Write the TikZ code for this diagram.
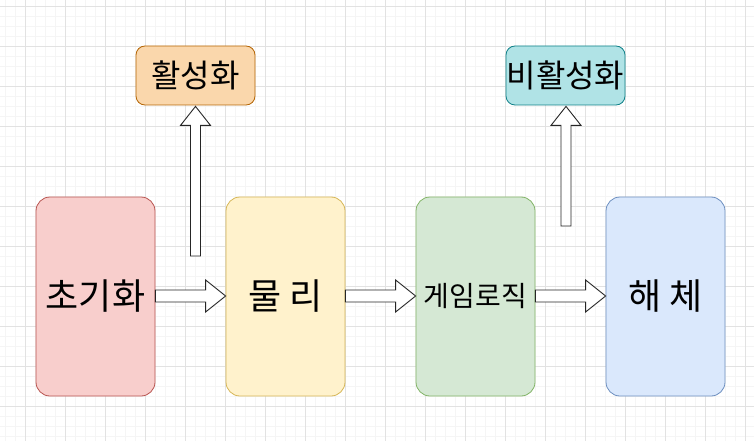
\documentclass[tikz,border=0pt]{standalone}
\usepackage{fontspec}
\newfontfamily\kr{Noto Sans CJK KR}
\usetikzlibrary{calc}
\definecolor{redF}{HTML}{F8CECC}\definecolor{redD}{HTML}{B85450}
\definecolor{yelF}{HTML}{FFF2CC}\definecolor{yelD}{HTML}{D6B656}
\definecolor{grnF}{HTML}{D5E8D4}\definecolor{grnD}{HTML}{82B366}
\definecolor{bluF}{HTML}{DAE8FC}\definecolor{bluD}{HTML}{6C8EBF}
\definecolor{orF}{HTML}{FAD7AC}\definecolor{orD}{HTML}{B46504}
\definecolor{tlF}{HTML}{B0E3E6}\definecolor{tlD}{HTML}{0E8088}
\definecolor{gridminor}{HTML}{F5F5F5}\definecolor{gridmajor}{HTML}{E2E2E2}
\tikzset{
  stage/.style={draw=#1D, fill=#1F, rounded corners=14pt, minimum width=119pt, minimum height=199pt, inner sep=0pt, line width=0.8pt, font=\kr\fontsize{36}{40}\selectfont},
  tag/.style={draw=#1D, fill=#1F, rounded corners=9pt, minimum width=119pt, minimum height=59pt, inner sep=0pt, line width=0.8pt, font=\kr\fontsize{32}{36}\selectfont},
  flex/.style={draw=black!85, fill=white, line width=0.9pt, line join=miter},
}
\begin{document}
\begin{tikzpicture}[x=1pt,y=-1pt]
\useasboundingbox (0,0) rectangle (754,441);
% grid
\foreach \x in {5,15,...,754} \draw[gridminor,line width=0.6pt] (\x,0) -- (\x,441);
\foreach \y in {6,16,...,441} \draw[gridminor,line width=0.6pt] (0,\y) -- (754,\y);
\foreach \x in {25,65,...,754} \draw[gridmajor,line width=0.7pt] (\x,0) -- (\x,441);
\foreach \y in {6,46,...,441} \draw[gridmajor,line width=0.7pt] (0,\y) -- (754,\y);
% nodes
\node[stage=red] (init) at (95.5,296.5) {초기화};
\node[stage=yel] (phys) at (285.5,296.5) {물 리};
\node[stage=grn, font=\kr\fontsize{28}{32}\selectfont] (logic) at (475.5,296.5) {게임로직};
\node[stage=blu] (dest) at (665.5,296.5) {해 체};
\node[tag=or] (act) at (195.5,75.5) {활성화};
\node[tag=tl] (deact) at (565.5,75.5) {비활성화};
\coordinate (midline) at (0,296);
% horizontal flex arrows
\foreach \aa/\bb in {init/phys,phys/logic,logic/dest}{
  \coordinate (s) at (\aa.east |- midline);
  \coordinate (t) at (\bb.west |- midline);
  \draw[flex] ($(s)+(0,-6)$) -- ($(t)+(-20,-6)$) -- ($(t)+(-20,-16)$) -- (t) -- ($(t)+(-20,16)$) -- ($(t)+(-20,6)$) -- ($(s)+(0,6)$) -- cycle;
}
% vertical flex arrows
\coordinate (u1) at (195.5,256);
\coordinate (u2) at (566,226);
\foreach \ss/\nn in {u1/act,u2/deact}{
  \coordinate (t) at (\ss |- \nn.south);
  \draw[flex] ($(\ss)+(-5,0)$) -- ($(t)+(-5,20)$) -- ($(t)+(-15,20)$) -- ($(t)+(0,1)$) -- ($(t)+(15,20)$) -- ($(t)+(5,20)$) -- ($(\ss)+(5,0)$) -- cycle;
}
\end{tikzpicture}
\end{document}
